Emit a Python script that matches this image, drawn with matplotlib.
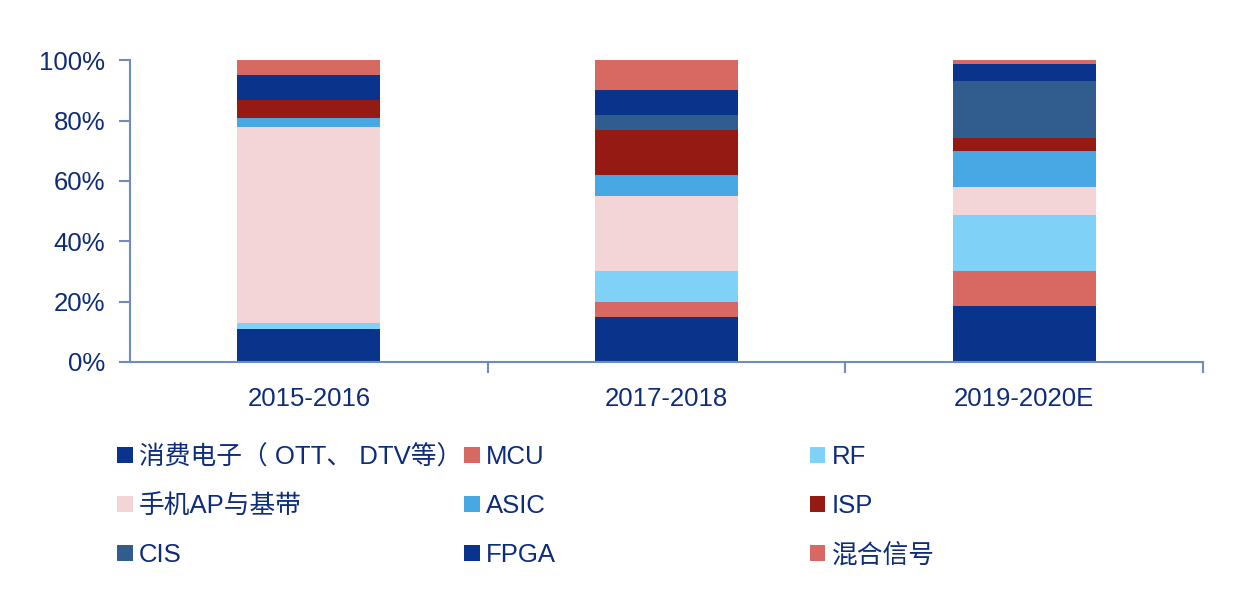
import matplotlib.pyplot as plt
from matplotlib.patches import Patch

plt.rcParams['font.family'] = ['Liberation Sans', 'Noto Sans CJK SC', 'DejaVu Sans']

periods = ["2015-2016", "2017-2018", "2019-2020E"]
segments = ["消费电子（ OTT、 DTV等）", "MCU", "RF", "手机AP与基带", "ASIC", "ISP",
            "CIS", "FPGA", "混合信号"]
# shares in percent, bottom to top
consumer = [11, 15, 18.4]
mcu = [0, 5, 11.6]
rf = [2, 10, 18.7]
mobile_ap = [65, 25, 9.4]
asic = [3, 7, 11.7]
isp = [6, 15, 4.5]
cis = [0, 5, 18.9]
fpga = [8, 8, 5.6]
mixed = [5, 10, 1.2]

series = [consumer, mcu, rf, mobile_ap, asic, isp, cis, fpga, mixed]
colors = ["#0A348C", "#D86862", "#7FD1F8", "#F3D5D8", "#48A8E3", "#951A14",
          "#305D8E", "#0A348C", "#D86862"]

text_c = "#0E2C7C"
axis_c = "#6F8BC3"

fig = plt.figure(figsize=(12.48, 5.94), dpi=100)
ax = fig.add_axes([0.1042, 0.3906, 0.8598, 0.5079])

x = range(len(periods))
bottom = [0.0] * len(periods)
handles = []
for vals, col, name in zip(series, colors, segments):
    ax.bar(x, [v / 100 for v in vals], width=0.4, bottom=[b / 100 for b in bottom],
           color=col, linewidth=0)
    bottom = [b + v for b, v in zip(bottom, vals)]
    handles.append(Patch(facecolor=col, edgecolor='none', label=name))

ax.set_xlim(-0.5, 2.5)
ax.set_ylim(0, 1.0)
ax.set_yticks([0, 0.2, 0.4, 0.6, 0.8, 1.0])
ax.set_yticklabels(["0%", "20%", "40%", "60%", "80%", "100%"])
ax.set_xticks([0.5, 1.5, 2.5])
ax.set_xticklabels([])
ax.set_xticks(list(x), minor=True)
ax.set_xticklabels(periods, minor=True)
ax.tick_params(axis='x', which='minor', length=0, pad=18, labelsize=18.5, labelcolor=text_c)
ax.tick_params(axis='x', which='major', length=8, width=1.5, color=axis_c, direction='out')
ax.tick_params(axis='y', length=8, width=1.5, color=axis_c, labelsize=18.5,
               labelcolor=text_c, pad=10)
for s in ['top', 'right']:
    ax.spines[s].set_visible(False)
for s in ['left', 'bottom']:
    ax.spines[s].set_color(axis_c)
    ax.spines[s].set_linewidth(1.5)

col_x = [0.0940, 0.372, 0.649]
for i, cx in enumerate(col_x):
    hs = [handles[i], handles[i + 3], handles[i + 6]]
    leg = fig.legend(handles=hs, loc='center left', bbox_to_anchor=(cx, 0.148),
                     frameon=False, borderpad=0, borderaxespad=0, fontsize=18.5,
                     handlelength=0.6, handleheight=0.6, handletextpad=0.25,
                     labelspacing=0.97)
    for t in leg.get_texts():
        t.set_color(text_c)

fig.savefig("out.png", dpi=100)
